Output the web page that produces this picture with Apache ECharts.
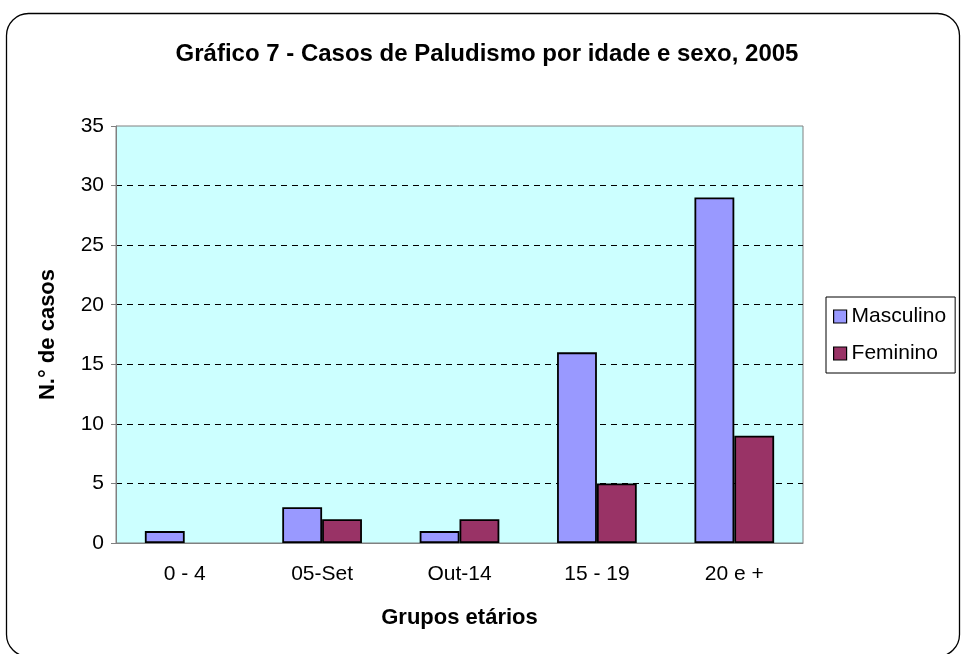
<!DOCTYPE html>
<html>
<head>
<meta charset="utf-8">
<script src="https://cdn.jsdelivr.net/npm/echarts@6/dist/echarts.min.js"></script>
<style>
  html, body { margin: 0; padding: 0; background: #fff; }
  #chart { width: 963px; height: 654px; }
</style>
</head>
<body>
<div id="chart"></div>
<script>
var categories = ['0 - 4', '05-Set', 'Out-14', '15 - 19', '20 e +']
var masculino = [1, 3, 1, 16, 29]
var feminino = [0, 2, 2, 5, 9]
var yTicks = [0, 5, 10, 15, 20, 25, 30, 35]

var font = 'Arial, "Liberation Sans", sans-serif'
var chart = echarts.init(document.getElementById('chart'))

// Excel leaves zero bars invisible, so drop the outline on them
function barData(values) {
  return values.map(function (v) {
    return v === 0 ? { value: v, itemStyle: { borderWidth: 0 } } : v
  })
}

chart.setOption({
  animation: false,
  textStyle: { fontFamily: font },
  graphic: [{
    type: 'rect',
    shape: { x: 6.5, y: 13.5, width: 953, height: 643, r: 22 },
    style: { fill: 'none', stroke: '#000', lineWidth: 1.3 },
    z: -10
  }],
  title: {
    text: 'Gráfico 7 - Casos de Paludismo por idade e sexo, 2005',
    left: 482,
    textAlign: 'center',
    top: 37,
    textStyle: { fontFamily: font, fontSize: 24, fontWeight: 'bold', color: '#000' }
  },
  legend: {
    orient: 'vertical',
    left: 826,
    top: 297,
    padding: [9, 9, 9, 7],
    itemGap: 16,
    itemWidth: 13,
    itemHeight: 13,
    borderColor: '#000',
    borderWidth: 1,
    textStyle: { fontFamily: font, fontSize: 21, color: '#000' },
    icon: 'rect',
    itemStyle: { borderColor: '#000', borderWidth: 1.2 },
    data: ['Masculino', 'Feminino']
  },
  grid: {
    left: 116,
    top: 126,
    width: 687,
    height: 417,
    show: true,
    backgroundColor: '#CCFFFF',
    borderColor: '#808080',
    borderWidth: 1
  },
  xAxis: {
    type: 'category',
    data: categories,
    name: 'Grupos etários',
    nameLocation: 'middle',
    nameGap: 64,
    nameTextStyle: { fontFamily: font, fontSize: 22, fontWeight: 'bold', color: '#000' },
    axisLine: { lineStyle: { color: '#808080', width: 1 } },
    axisTick: { length: 5, lineStyle: { color: '#808080' } },
    axisLabel: { fontFamily: font, fontSize: 21, color: '#000', margin: 21 }
  },
  yAxis: {
    type: 'value',
    min: 0,
    max: 35,
    interval: 5,
    name: 'N.° de casos',
    nameLocation: 'middle',
    nameGap: 57,
    nameTextStyle: { fontFamily: font, fontSize: 22, fontWeight: 'bold', color: '#000' },
    axisLine: { show: true, lineStyle: { color: '#808080', width: 1 } },
    axisTick: { show: true, length: 5, lineStyle: { color: '#808080' } },
    axisLabel: {
      fontFamily: font, fontSize: 21, color: '#000', margin: 12,
      formatter: function (v) { return yTicks.indexOf(v) >= 0 ? String(v) : '' }
    },
    splitLine: {
      show: true,
      showMinLine: false,
      showMaxLine: false,
      lineStyle: { color: '#000', type: [6, 5], width: 1 }
    }
  },
  series: [
    {
      name: 'Masculino',
      type: 'bar',
      data: barData(masculino),
      barGap: '0%',
      barCategoryGap: '42%',
      itemStyle: { color: '#9999FF', borderColor: '#000', borderWidth: 1.8 }
    },
    {
      name: 'Feminino',
      type: 'bar',
      data: barData(feminino),
      itemStyle: { color: '#993366', borderColor: '#000', borderWidth: 1.8 }
    }
  ]
})
</script>
</body>
</html>
